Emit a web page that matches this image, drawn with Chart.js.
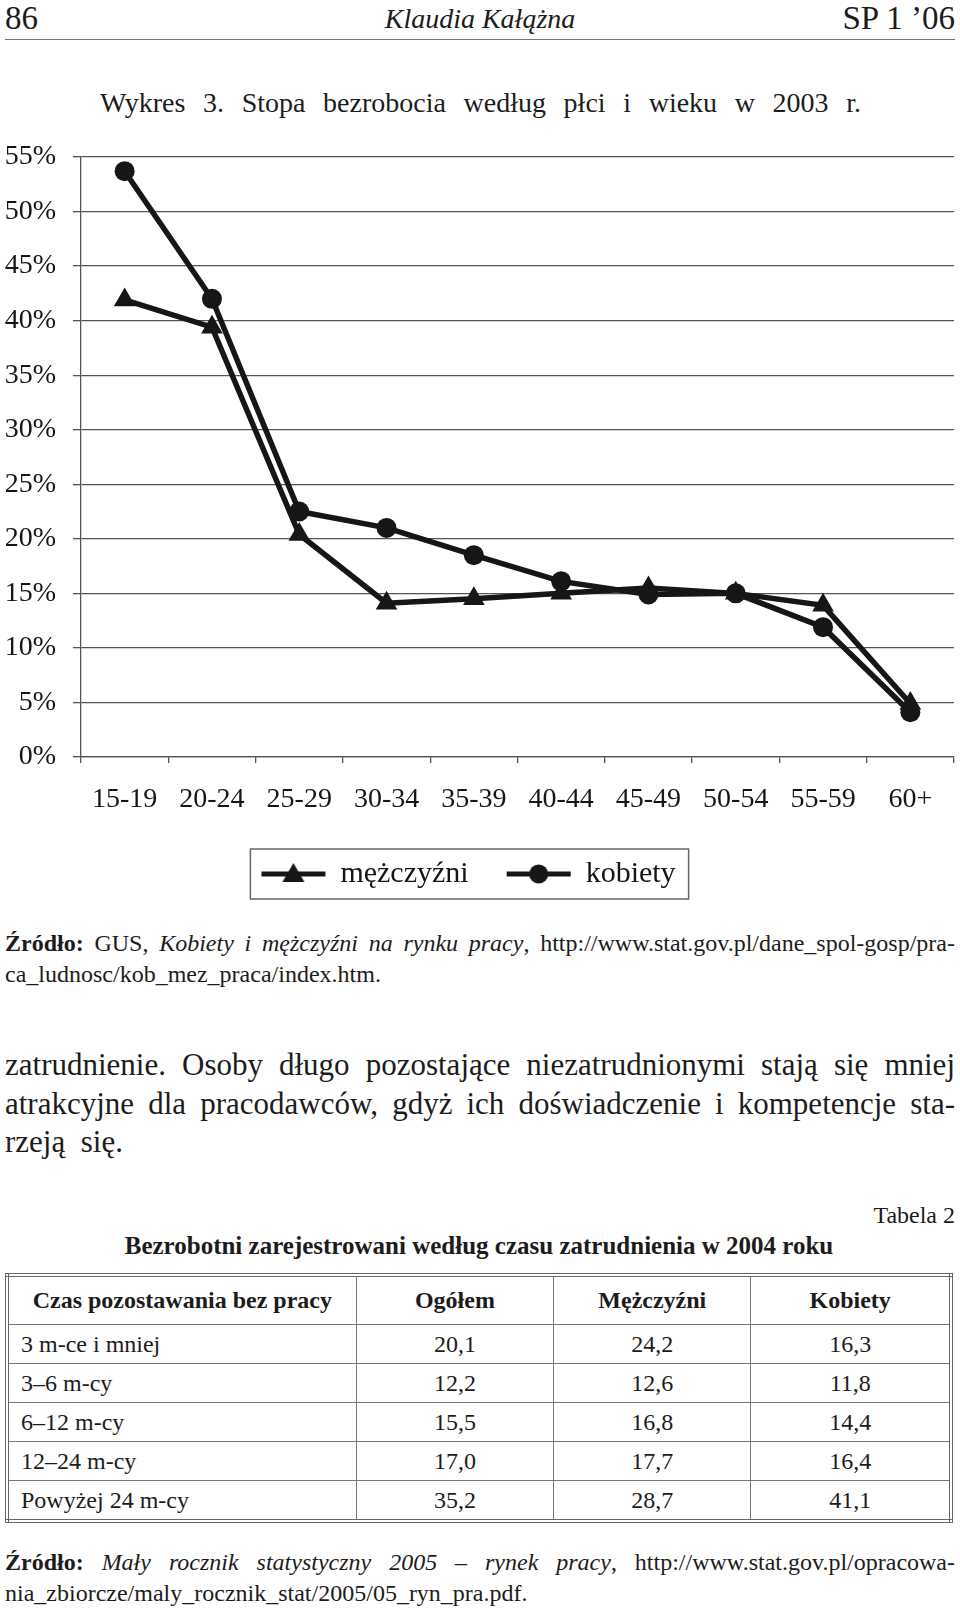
<!DOCTYPE html>
<html lang="pl">
<head>
<meta charset="utf-8">
<title>Wykres 3. Stopa bezrobocia według płci i wieku w 2003 r.</title>
<script src="https://cdn.jsdelivr.net/npm/chart.js@4.4.1/dist/chart.umd.min.js"></script>
<style>
  html, body { margin: 0; padding: 0; background: #fff; }
  body {
    width: 960px; height: 1610px; position: relative; overflow: hidden;
    font-family: 'Liberation Serif', 'Times New Roman', serif; color: #1c1c1c;
  }
  .abs { position: absolute; white-space: nowrap; }
  .just { text-align: justify; text-align-last: justify; }
  .rule { position: absolute; left: 5px; width: 950px; top: 39px; border-top: 1.5px solid #777; }
  #chart { position: absolute; left: 0; top: 120px; }
  .src { font-size: 24px; line-height: 30px; left: 5px; width: 950px; }
  .body { font-size: 31px; line-height: 38.5px; left: 5px; width: 950px; }
  table {
    position: absolute; left: 5px; top: 1273px; width: 948px;
    border-collapse: collapse; border: 4px double #666; font-size: 24px;
  }
  td, th { border: 1px solid #777; padding: 0; }
  th { height: 47px; font-weight: bold; text-align: center; }
  td { height: 38px; text-align: center; }
  td.first { text-align: left; padding-left: 12px; }
</style>
</head>
<body>

<div class="abs" style="left:5px; top:0; line-height:37px; font-size:33px;">86</div>
<div class="abs" style="left:0; width:960px; text-align:center; top:0; line-height:37px; font-size:28px; font-style:italic;">Klaudia Kałążna</div>
<div class="abs" style="right:5px; top:0; line-height:37px; font-size:33px;">SP 1 ’06</div>
<div class="rule"></div>

<div class="abs just" style="left:100px; width:761px; top:86px; line-height:34px; font-size:28px;">Wykres 3. Stopa bezrobocia według płci i wieku w 2003 r.</div>

<canvas id="chart" width="960" height="800"></canvas>

<div class="abs src just" style="top:928px;"><b>Źródło:</b> GUS, <i>Kobiety i mężczyźni na rynku pracy</i>, http://www.stat.gov.pl/dane_spol-gosp/pra-</div>
<div class="abs src" style="top:959px;">ca_ludnosc/kob_mez_praca/index.htm.</div>

<div class="abs body just" style="top:1046px;">zatrudnienie. Osoby długo pozostające niezatrudnionymi stają się mniej</div>
<div class="abs body just" style="top:1084.5px;">atrakcyjne dla pracodawców, gdyż ich doświadczenie i kompetencje sta-</div>
<div class="abs body" style="top:1123px;">rzeją&nbsp; się.</div>

<div class="abs" style="right:5px; top:1200px; line-height:30px; font-size:24px;">Tabela 2</div>
<div class="abs" style="left:5px; width:948px; text-align:center; top:1231px; line-height:30px; font-size:25px; font-weight:bold;">Bezrobotni zarejestrowani według czasu zatrudnienia w 2004 roku</div>

<table id="tab"></table>

<div class="abs src just" style="top:1547px;"><b>Źródło:</b> <i>Mały rocznik statystyczny 2005 – rynek pracy</i>, http://www.stat.gov.pl/opracowa-</div>
<div class="abs src" style="top:1578px;">nia_zbiorcze/maly_rocznik_stat/2005/05_ryn_pra.pdf.</div>

<script>
// Wykres 3 - stopa bezrobocia (%) wg grup wieku
const ageGroups = ['15-19', '20-24', '25-29', '30-34', '35-39', '40-44', '45-49', '50-54', '55-59', '60+'];
const menRate = [41.9, 39.4, 20.4, 14.1, 14.5, 15.0, 15.5, 15.0, 13.9, 4.9];
const womenRate = [53.7, 42.0, 22.5, 21.0, 18.5, 16.1, 14.9, 15.0, 11.9, 4.1];
const yTicks = [0, 5, 10, 15, 20, 25, 30, 35, 40, 45, 50, 55];

// Tabela 2
const tableHead = ['Czas pozostawania bez pracy', 'Ogółem', 'Mężczyźni', 'Kobiety'];
const durations = ['3 m-ce i mniej', '3–6 m-cy', '6–12 m-cy', '12–24 m-cy', 'Powyżej 24 m-cy'];
const totalShare = [20.1, 12.2, 15.5, 17.0, 35.2];
const menShare = [24.2, 12.6, 16.8, 17.7, 28.7];
const womenShare = [16.3, 11.8, 14.4, 16.4, 41.1];

const ink = '#161616';
const gridInk = '#555';
const serif = "'Liberation Serif', 'Times New Roman', serif";

function fmt(v) {
  return v.toFixed(1).replace('.', ',');
}

function buildTable() {
  const tab = document.getElementById('tab');
  const widths = [351, 199, 198, 200];
  let html = '<tr>' + tableHead.map((h, i) => `<th style="width:${widths[i]}px">${h}</th>`).join('') + '</tr>';
  durations.forEach((d, i) => {
    html += `<tr><td class="first">${d}</td><td>${fmt(totalShare[i])}</td><td>${fmt(menShare[i])}</td><td>${fmt(womenShare[i])}</td></tr>`;
  });
  tab.innerHTML = html;
}

// small picture of line + marker for the legend
function legendIcon(style) {
  const c = document.createElement('canvas');
  c.width = 66;
  c.height = 28;
  const g = c.getContext('2d');
  g.strokeStyle = ink;
  g.fillStyle = ink;
  g.lineWidth = 5;
  g.beginPath();
  g.moveTo(1, 14);
  g.lineTo(65, 14);
  g.stroke();
  g.beginPath();
  if (style === 'triangle') {
    g.moveTo(33, 3);
    g.lineTo(44, 22);
    g.lineTo(22, 22);
    g.closePath();
  } else {
    g.arc(33, 14, 9.5, 0, Math.PI * 2);
  }
  g.fill();
  return c;
}

const legendFrame = {
  id: 'legendFrame',
  afterLayout(chart) {
    // legend sits a bit left of the canvas centre in the original
    chart.legend.left -= 11;
    chart.legend.right -= 11;
  },
  afterDraw(chart) {
    const boxes = chart.legend && chart.legend.legendHitBoxes;
    if (!boxes || !boxes.length) return;
    const left = Math.min(...boxes.map(b => b.left)) - 11;
    const right = Math.max(...boxes.map(b => b.left + b.width)) + 13;
    const top = boxes[0].top - 10;
    const bottom = boxes[0].top + boxes[0].height + 10;
    const ctx = chart.ctx;
    ctx.save();
    ctx.strokeStyle = '#666';
    ctx.lineWidth = 1.5;
    ctx.strokeRect(left, top, right - left, bottom - top);
    ctx.restore();
  }
};

function drawChart() {
  const ctx = document.getElementById('chart').getContext('2d');
  const icons = { triangle: legendIcon('triangle'), circle: legendIcon('circle') };

  new Chart(ctx, {
    type: 'line',
    data: {
      labels: ageGroups,
      datasets: [{
        label: 'mężczyźni',
        data: menRate,
        borderColor: ink,
        backgroundColor: ink,
        borderWidth: 5.5,
        pointStyle: 'triangle',
        pointRadius: 12.5,
        pointBorderWidth: 0,
        pointBackgroundColor: ink,
        order: 1
      }, {
        label: 'kobiety',
        data: womenRate,
        borderColor: ink,
        backgroundColor: ink,
        borderWidth: 5.5,
        pointStyle: 'circle',
        pointRadius: 10,
        pointBorderWidth: 0,
        pointBackgroundColor: ink,
        order: 0
      }]
    },
    options: {
      responsive: false,
      animation: false,
      devicePixelRatio: 1,
      layout: { autoPadding: false, padding: { left: 5, right: 6, top: 37, bottom: 21 } },
      plugins: {
        tooltip: { enabled: false },
        legend: {
          position: 'bottom',
          labels: {
            usePointStyle: true,
            pointStyleWidth: 64,
            padding: 38,
            color: ink,
            font: { family: serif, size: 30 },
            generateLabels: (chart) => chart.data.datasets.map((ds, i) => ({
              text: ds.label,
              pointStyle: icons[ds.pointStyle],
              fillStyle: ink,
              strokeStyle: ink,
              lineWidth: 0,
              fontColor: ink,
              hidden: false,
              datasetIndex: i
            }))
          }
        }
      },
      scales: {
        x: {
          offset: true,
          afterFit: (scale) => {
            scale.height = 64;
            scale.paddingLeft = 0;
            scale.paddingRight = 0;
          },
          grid: {
            offset: true,
            drawOnChartArea: true,
            color: (c) => (c.index === ageGroups.length ? gridInk : 'rgba(0,0,0,0)'),
            tickColor: gridInk,
            lineWidth: 1.3,
            tickLength: 6
          },
          border: { color: gridInk, width: 1.3 },
          ticks: { color: ink, padding: 20, font: { family: serif, size: 28 } }
        },
        y: {
          min: 0,
          max: 55,
          afterBuildTicks: (scale) => { scale.ticks = yTicks.map(v => ({ value: v })); },
          afterFit: (scale) => { scale.width = 76; },
          grid: { color: gridInk, lineWidth: 1.3, tickLength: 8 },
          border: { color: gridInk, width: 1.3 },
          ticks: {
            color: ink,
            padding: 17,
            font: { family: serif, size: 28 },
            callback: (v) => v + '%'
          }
        }
      }
    },
    plugins: [legendFrame]
  });
}

buildTable();
drawChart();
</script>
</body>
</html>
